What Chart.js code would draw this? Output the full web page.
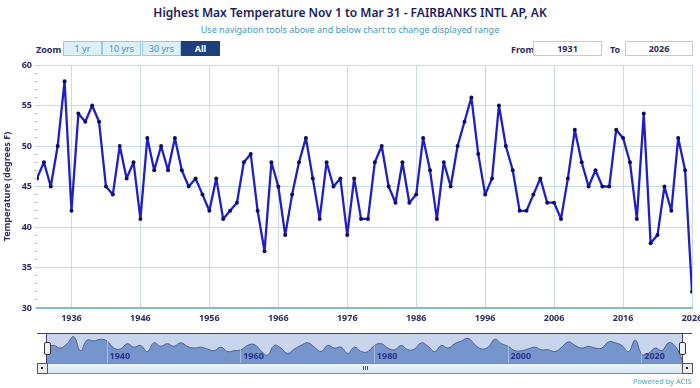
<!DOCTYPE html>
<html>
<head>
<meta charset="utf-8">
<script src="https://cdn.jsdelivr.net/npm/chart.js@4/dist/chart.umd.min.js"></script>
<style>
  body { margin: 0; background: #fff; font-family: "Noto Sans", sans-serif; }
  #wrap { position: relative; width: 700px; height: 388px; overflow: hidden; }
  .abs { position: absolute; }
  #title { left: 0; width: 700px; top: 4px; text-align: center; font-size: 12px; font-weight: 600; color: #1b1b5e; }
  #sub { left: 0; width: 700px; top: 23px; text-align: center; font-size: 9px; color: #3f9ab8; }
  .lbl { font-size: 9px; font-weight: 700; color: #2a2a5a; top: 43px; }
  .btn { top: 41px; height: 15px; width: 39px; box-sizing: border-box; border: 1px solid #9ccadb; background: #dcf0f7;
         color: #4a90b4; font-size: 9px; text-align: center; line-height: 13px; }
  .btn.sel { background: #1d3f7c; border-color: #1d3f7c; color: #fff; font-weight: 700; }
  .inp { top: 41px; height: 15px; box-sizing: border-box; border: 1px solid #c9c9c9; background: #fff;
         color: #2a2a5a; font-size: 9px; font-weight: 700; text-align: center; line-height: 13px; }
  canvas { position: absolute; left: 0; }
</style>
</head>
<body>
<div id="wrap">
  <div id="title" class="abs">Highest Max Temperature Nov 1 to Mar 31 - FAIRBANKS INTL AP, AK</div>
  <div id="sub" class="abs">Use navigation tools above and below chart to change displayed range</div>

  <div class="abs lbl" style="left:36px">Zoom</div>
  <div class="abs btn" style="left:63px">1 yr</div>
  <div class="abs btn" style="left:102px">10 yrs</div>
  <div class="abs btn" style="left:142px">30 yrs</div>
  <div class="abs btn sel" style="left:181px">All</div>

  <div class="abs lbl" style="left:511px">From</div>
  <div class="abs inp" style="left:533px;width:69px">1931</div>
  <div class="abs lbl" style="left:610px">To</div>
  <div class="abs inp" style="left:625px;width:68px">2026</div>

  <canvas id="main" width="700" height="275" style="top:55px"></canvas>

  <!-- navigator -->
  <div class="abs" style="left:47px;top:334px;width:635px;height:29px;background:#c9d5ed"></div>
  <canvas id="nav" width="700" height="50" style="top:325px"></canvas>
  <div class="abs" style="left:37px;top:333px;width:655px;height:1px;background:#3a4380"></div>
  <div class="abs" style="left:46px;top:333px;width:1px;height:31px;background:#3a4380"></div>
  <div class="abs" style="left:682px;top:333px;width:1px;height:31px;background:#3a4380"></div>
  <div class="abs" style="left:44px;top:342px;width:5px;height:11px;background:#f2f2f2;border:1px solid #333;border-radius:2px"></div>
  <div class="abs" style="left:679px;top:342px;width:5px;height:11px;background:#f2f2f2;border:1px solid #333;border-radius:2px"></div>

  <!-- scrollbar -->
  <div class="abs" style="left:37px;top:363px;width:654px;height:9px;border:1px solid #7f8aa8;background:linear-gradient(#eef5fc,#d6e7f6)"></div>
  <div class="abs" style="left:37px;top:363px;width:9px;height:9px;border:1px solid #555;background:#ececec"></div>
  <div class="abs" style="left:41px;top:367px;width:2px;height:2px;background:#222"></div>
  <div class="abs" style="left:682px;top:363px;width:9px;height:9px;border:1px solid #555;background:#ececec"></div>
  <div class="abs" style="left:686px;top:367px;width:2px;height:2px;background:#222"></div>
  <div class="abs" style="left:363px;top:366px;width:1px;height:4px;background:#555"></div>
  <div class="abs" style="left:365px;top:366px;width:1px;height:4px;background:#555"></div>
  <div class="abs" style="left:367px;top:366px;width:1px;height:4px;background:#555"></div>

  <div class="abs" style="left:600px;width:92px;top:376px;text-align:right;font-size:7.5px;color:#4aa5c4">Powered by ACIS</div>
</div>

<script>
// seasons (year of season end) and highest max temperature, degrees F
var years = [
  1931, 1932, 1933, 1934, 1935, 1936, 1937, 1938, 1939, 1940,
  1941, 1942, 1943, 1944, 1945, 1946, 1947, 1948, 1949, 1950,
  1951, 1952, 1953, 1954, 1955, 1956, 1957, 1958, 1959, 1960,
  1961, 1962, 1963, 1964, 1965, 1966, 1967, 1968, 1969, 1970,
  1971, 1972, 1973, 1974, 1975, 1976, 1977, 1978, 1979, 1980,
  1981, 1982, 1983, 1984, 1985, 1986, 1987, 1988, 1989, 1990,
  1991, 1992, 1993, 1994, 1995, 1996, 1997, 1998, 1999, 2000,
  2001, 2002, 2003, 2004, 2005, 2006, 2007, 2008, 2009, 2010,
  2011, 2012, 2013, 2014, 2015, 2016, 2017, 2018, 2019, 2020,
  2021, 2022, 2023, 2024, 2025, 2026
];
var maxTemp = [
  46, 48, 45, 50, 58, 42, 54, 53, 55, 53,
  45, 44, 50, 46, 48, 41, 51, 47, 50, 47,
  51, 47, 45, 46, 44, 42, 46, 41, 42, 43,
  48, 49, 42, 37, 48, 45, 39, 44, 48, 51,
  46, 41, 48, 45, 46, 39, 46, 41, 41, 48,
  50, 45, 43, 48, 43, 44, 51, 47, 41, 48,
  45, 50, 53, 56, 49, 44, 46, 55, 50, 47,
  42, 42, 44, 46, 43, 43, 41, 46, 52, 48,
  45, 47, 45, 45, 52, 51, 48, 41, 54, 38,
  39, 45, 42, 51, 47, 32
];
var xTicks = [1936, 1946, 1956, 1966, 1976, 1986, 1996, 2006, 2016, 2026];
var navTicks = [1940, 1960, 1980, 2000, 2020];

var points = years.map(function (y, i) { return { x: y, y: maxTemp[i] }; });
var navy = '#2c2c5e';
var tickFont = { family: 'Noto Sans', size: 9, weight: 'bold' };

new Chart(document.getElementById('main'), {
  type: 'line',
  data: {
    datasets: [{
      data: points,
      borderColor: '#1f1fc4',
      borderWidth: 2.3,
      borderJoinStyle: 'round',
      borderCapStyle: 'round',
      pointRadius: 2,
      pointBackgroundColor: '#0c0c66',
      pointBorderColor: '#0c0c66',
      pointBorderWidth: 0,
      tension: 0
    }]
  },
  options: {
    responsive: false,
    animation: false,
    layout: { padding: { top: 10, right: 8, left: 0, bottom: 0 } },
    plugins: { legend: { display: false }, tooltip: { enabled: false } },
    scales: {
      x: {
        type: 'linear',
        min: 1931, max: 2026,
        afterBuildTicks: function (s) { s.ticks = xTicks.map(function (v) { return { value: v }; }); },
        afterFit: function (s) { s.height = 22; s.paddingLeft = 0; s.paddingRight = 0; },
        grid: { color: '#c7dde4', drawTicks: false },
        border: { color: '#86bcc8', width: 2 },
        ticks: { font: tickFont, color: navy, padding: 5, autoSkip: false, maxRotation: 0,
                  callback: function (v) { return String(v); } }
      },
      y: {
        min: 30, max: 60,
        afterFit: function (s) { s.width = 37; s.paddingTop = 0; s.paddingBottom = 0; },
        grid: {
          color: function (c) { return c.tick.value % 5 === 0 ? '#c7dde4' : 'rgba(0,0,0,0)'; },
          tickColor: function (c) { return c.tick.value % 5 === 0 ? '#c7dde4' : '#b8c4c8'; },
          tickLength: 3
        },
        border: { display: false },
        title: { display: true, text: 'Temperature (degrees F)', font: tickFont, color: navy, padding: { top: 2, bottom: 0 } },
        ticks: {
          stepSize: 1, autoSkip: false, font: tickFont, color: navy, padding: 2,
          callback: function (v) { return v % 5 === 0 ? String(v) : ''; }
        }
      }
    }
  }
});

new Chart(document.getElementById('nav'), {
  type: 'line',
  data: {
    datasets: [{
      data: points,
      borderColor: '#4b5d98',
      borderWidth: 1,
      backgroundColor: '#7795cd',
      fill: 'start',
      pointRadius: 0,
      tension: 0.45
    }]
  },
  options: {
    responsive: false,
    animation: false,
    layout: { padding: { top: 9, right: 18, left: 47, bottom: 12 } },
    plugins: { legend: { display: false }, tooltip: { enabled: false } },
    scales: {
      x: {
        type: 'linear',
        min: 1931, max: 2026,
        afterBuildTicks: function (s) { s.ticks = navTicks.map(function (v) { return { value: v }; }); },
        afterFit: function (s) { s.height = 0; s.paddingLeft = 0; s.paddingRight = 0; },
        grid: { color: 'rgba(200,212,236,0.6)', drawTicks: false, z: 1 },
        border: { display: false },
        ticks: { font: { family: 'Noto Sans', size: 9, weight: 'bold' }, color: '#26348a', padding: 1, z: 1,
                 mirror: true, align: 'start', autoSkip: false, maxRotation: 0,
                 callback: function (v) { return ' ' + String(v); } }
      },
      y: { display: false, min: 28, max: 61 }
    }
  }
});
</script>
</body>
</html>
